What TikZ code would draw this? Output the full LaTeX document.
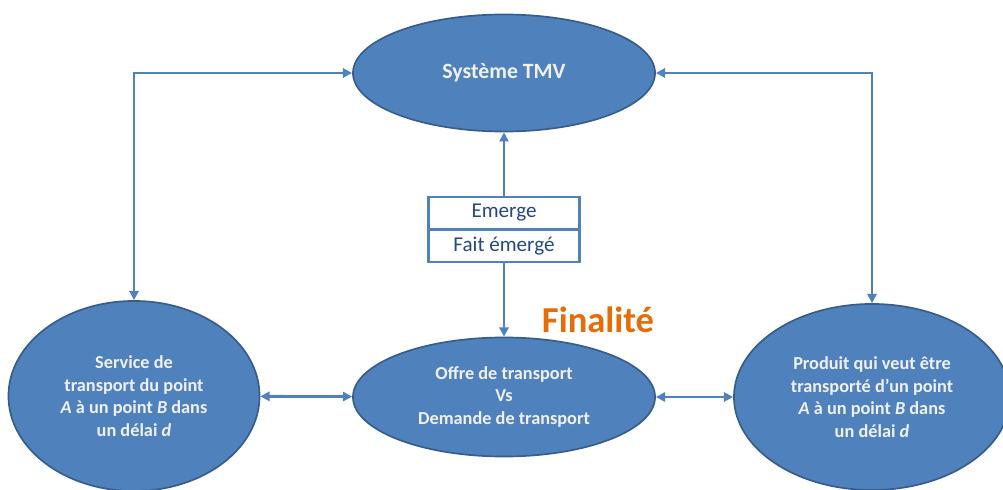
\documentclass[tikz,border=0pt]{standalone}
\usepackage{fontspec}
\setmainfont{Carlito}
\usetikzlibrary{shapes.geometric,arrows.meta}
\definecolor{ovalblue}{RGB}{79,129,189}
\definecolor{ovaledge}{RGB}{56,93,138}
\definecolor{ovaltext}{RGB}{240,240,240}
\definecolor{boxtext}{RGB}{38,72,128}
\definecolor{finorange}{RGB}{228,108,10}
\begin{document}
\begin{tikzpicture}[x=0.025cm,y=-0.025cm]
\tikzset{oval/.style={ellipse,draw=ovaledge,line width=1.2pt,fill=ovalblue,inner sep=0pt,
  text=ovaltext,align=center,font=\bfseries\fontsize{13}{16}\selectfont}};
\tikzset{link/.style={{Triangle[length=6.5pt,width=6.5pt]}-{Triangle[length=6.5pt,width=6.5pt]},draw=ovalblue,line width=2pt}};
\tikzset{tag/.style={draw=ovalblue,line width=1.6pt,fill=white,minimum width=3.775cm,minimum height=0.8cm,
  inner sep=0pt,text=boxtext,font=\fontsize{15}{18}\selectfont}};
\useasboundingbox (0,0) rectangle (1003,490);

\node[oval,minimum width=7.55cm,minimum height=2.925cm,font=\bfseries\fontsize{15.5}{18}\selectfont] (tmv) at (504,73) {Système TMV};
\node[oval,minimum width=7.55cm,minimum height=2.975cm] (offre) at (504,397)
  {Offre de transport\\Vs\\Demande de transport};
\node[oval,minimum width=6.275cm,minimum height=4.75cm] (service) at (134,396)
  {Service de\\transport du point\\\textit{A} à un point \textit{B} dans\\un délai \textit{d}};
\node[oval,minimum width=6.9cm,minimum height=4.65cm] (produit) at (872,397)
  {Produit qui veut être\\transporté d’un point\\\textit{A} à un point \textit{B} dans\\un délai \textit{d}};

\draw [link] (service) |- (tmv);
\draw [link] (tmv) -| (produit);
\draw [link] (offre) -- (tmv);
\draw [link] (service) -- (offre);
\draw [link] (offre) -- (produit);

\node[tag] (emerge) at (504,213) {Emerge};
\node[tag] (fait) at (504,246) {Fait émergé};

\node[text=finorange,font=\bfseries\fontsize{26}{30}\selectfont] (finalite) at (598,320) {Finalité};
\end{tikzpicture}
\end{document}
